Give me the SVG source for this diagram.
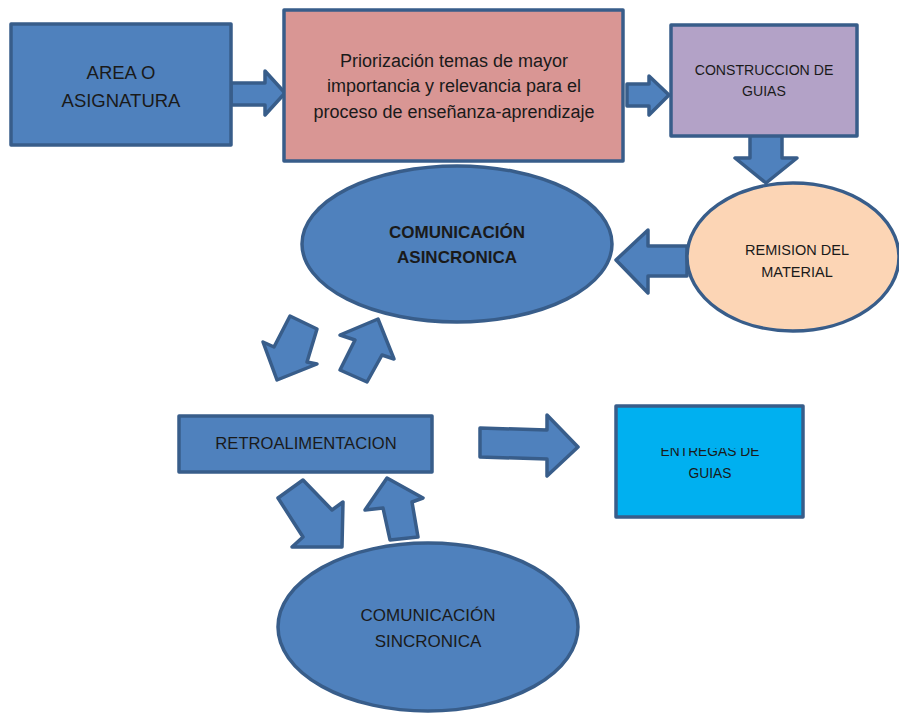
<svg xmlns="http://www.w3.org/2000/svg" width="899" height="713" viewBox="0 0 899 713">
<style>
.n{stroke:#385d8a;stroke-width:3.5;stroke-linejoin:round}
.blue{fill:#4f81bd}
.ar{fill:#4f81bd;stroke:#385d8a;stroke-width:3.5;stroke-linejoin:round}
text{font-family:"Liberation Sans",Arial,sans-serif;fill:#1a1a1a;text-anchor:middle}
</style>
<defs>
<clipPath id="clipEnt"><rect x="616" y="448" width="188" height="80"/></clipPath>
</defs>
<rect width="899" height="713" fill="#ffffff"/>
<g id="connectors">
<polygon class="ar" points="231,83 265,83 265,71 285,93 265,115 265,105 231,105"/>
<polygon class="ar" points="627,84 649,84 649,76 669,95 649,115 649,106 627,106"/>
<polygon class="ar" points="750,130 782,130 782,158 797,158 766,183 735,158 750,158"/>
<polygon class="ar" points="687,246 648,246 648,230 616,260 648,293 648,276 687,276"/>
<polygon class="ar" points="290,316 317,329 307,362 317,364 277,380 263,342 274,347"/>
<polygon class="ar" points="340,335 378,319 394,359 382,355 367,382 340,370 355,340"/>
<polygon class="ar" points="480,428 547,430 547,415 578,447 547,476 547,459 480,457"/>
<polygon class="ar" points="278,498 303,480 332,510 343,502 342,547 292,547 303,537"/>
<polygon class="ar" points="365,510 387,478 423,498 412,502 418,537 390,540 383,508"/>
</g>
<g id="area">
<rect class="n blue" x="11" y="24" width="220" height="121"/>
<text x="121" y="79" font-size="18.5">AREA O</text>
<text x="121" y="107" font-size="18.5">ASIGNATURA</text>
</g>
<g id="priorizacion">
<rect class="n" fill="#d99694" x="284" y="10" width="339" height="151"/>
<text x="454" y="67" font-size="18">Priorización temas de mayor</text>
<text x="454" y="92" font-size="18">importancia y relevancia para el</text>
<text x="454" y="118" font-size="18">proceso de enseñanza-aprendizaje</text>
</g>
<g id="construccion">
<rect class="n" fill="#b3a2c7" x="671" y="25" width="186" height="111"/>
<text x="764" y="75" font-size="14.1">CONSTRUCCION DE</text>
<text x="764" y="96" font-size="14.1">GUIAS</text>
</g>
<g id="remision">
<ellipse class="n" fill="#fcd5b5" cx="793" cy="257" rx="106" ry="74"/>
<text x="797" y="255" font-size="14.5">REMISION DEL</text>
<text x="797" y="277" font-size="14.5">MATERIAL</text>
</g>
<g id="asincronica">
<ellipse class="n blue" cx="457" cy="244" rx="155" ry="78"/>
<text x="457" y="238" font-size="17" font-weight="bold">COMUNICACIÓN</text>
<text x="457" y="263" font-size="17" font-weight="bold">ASINCRONICA</text>
</g>
<g id="retroalimentacion">
<rect class="n blue" x="179" y="416" width="253" height="56"/>
<text x="306" y="449" font-size="16.6">RETROALIMENTACION</text>
</g>
<g id="entregas">
<rect class="n" fill="#00b0f0" x="616" y="406" width="187" height="111"/>
<text x="710" y="456" font-size="13.8" clip-path="url(#clipEnt)">ENTREGAS DE</text>
<text x="710" y="478" font-size="13.8">GUIAS</text>
</g>
<g id="sincronica">
<ellipse class="n blue" cx="428" cy="627" rx="150" ry="84"/>
<text x="428" y="621" font-size="17">COMUNICACIÓN</text>
<text x="428" y="647" font-size="17">SINCRONICA</text>
</g>
</svg>
